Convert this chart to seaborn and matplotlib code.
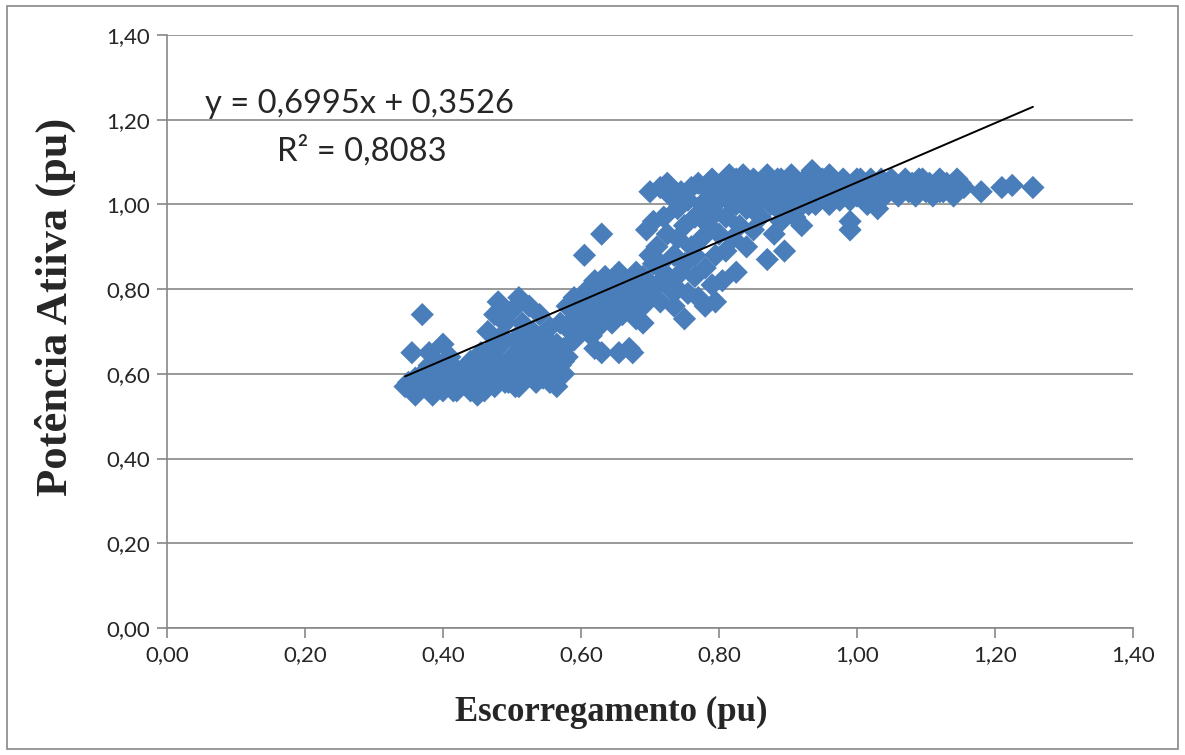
import numpy as np
import pandas as pd
import seaborn as sns
import matplotlib.pyplot as plt
from matplotlib.patches import Rectangle

# escorregamento (pu) and potencia ativa (pu)
escorregamento = [
    0.345, 0.35, 0.355, 0.36, 0.36, 0.365, 0.37, 0.37, 0.375, 0.38, 0.38, 0.385, 0.39, 0.39, 0.395,
    0.40, 0.40, 0.405, 0.41, 0.41, 0.415, 0.42, 0.42, 0.425, 0.43, 0.435, 0.44, 0.44, 0.445, 0.45,
    0.45, 0.455, 0.46, 0.46, 0.465, 0.47, 0.47, 0.475, 0.475, 0.48, 0.48, 0.485, 0.485, 0.49, 0.49,
    0.495, 0.50, 0.50, 0.505, 0.505, 0.51, 0.51, 0.515, 0.515, 0.52, 0.52, 0.525, 0.53, 0.53, 0.535,
    0.535, 0.54, 0.54, 0.545, 0.545, 0.55, 0.55, 0.555, 0.555, 0.56, 0.56, 0.565, 0.565, 0.57, 0.57,
    0.575, 0.575, 0.58, 0.58, 0.585, 0.59, 0.59, 0.595, 0.60, 0.60, 0.605, 0.605, 0.61, 0.61, 0.615,
    0.615, 0.62, 0.62, 0.625, 0.625, 0.63, 0.63, 0.635, 0.635, 0.64, 0.64, 0.645, 0.65, 0.65, 0.655,
    0.66, 0.66, 0.665, 0.67, 0.67, 0.675, 0.675, 0.68, 0.68, 0.685, 0.69, 0.69, 0.695, 0.70, 0.70,
    0.705, 0.705, 0.71, 0.71, 0.715, 0.715, 0.72, 0.72, 0.725, 0.725, 0.73, 0.73, 0.735, 0.735, 0.74,
    0.74, 0.745, 0.745, 0.75, 0.75, 0.755, 0.755, 0.76, 0.76, 0.765, 0.765, 0.77, 0.77, 0.775, 0.775,
    0.78, 0.78, 0.785, 0.785, 0.79, 0.79, 0.795, 0.795, 0.80, 0.80, 0.805, 0.805, 0.81, 0.81, 0.815,
    0.815, 0.82, 0.82, 0.825, 0.825, 0.83, 0.83, 0.835, 0.84, 0.84, 0.845, 0.85, 0.85, 0.855, 0.86,
    0.86, 0.865, 0.87, 0.87, 0.875, 0.88, 0.88, 0.885, 0.89, 0.89, 0.895, 0.90, 0.90, 0.905, 0.91,
    0.91, 0.915, 0.92, 0.92, 0.925, 0.93, 0.935, 0.94, 0.94, 0.945, 0.95, 0.955, 0.96, 0.96, 0.965,
    0.97, 0.975, 0.98, 0.985, 0.99, 0.99, 0.995, 1.00, 1.005, 1.01, 1.015, 1.02, 1.025, 1.03, 1.035,
    1.04, 1.045, 1.05, 1.055, 1.06, 1.065, 1.07, 1.075, 1.08, 1.085, 1.09, 1.095, 1.10, 1.105, 1.11,
    1.115, 1.12, 1.125, 1.13, 1.135, 1.14, 1.145, 1.15, 1.155, 1.18, 1.21, 1.225, 1.255,
    # extra density: lower cluster and upper band
    0.355, 0.37, 0.385, 0.40, 0.415, 0.43, 0.445, 0.46, 0.475, 0.49, 0.505, 0.52, 0.535, 0.55, 0.565,
    0.44, 0.47, 0.50, 0.53, 0.56, 0.455, 0.485, 0.515, 0.545, 0.575,
    0.59, 0.62, 0.645, 0.66, 0.69, 0.715, 0.74, 0.765, 0.60, 0.63, 0.655, 0.68, 0.70, 0.725, 0.75,
    0.79, 0.80, 0.81, 0.82, 0.83, 0.84, 0.85, 0.86, 0.87, 0.88, 0.89, 0.90, 0.91, 0.92, 0.93,
    0.78, 0.795, 0.81, 0.825, 0.84, 0.855, 0.87, 0.885, 0.90, 0.915, 0.93, 0.945, 0.96, 0.975, 0.99,
    1.00, 1.01, 1.02, 1.03, 1.04, 1.06, 1.08, 1.10, 1.12, 1.14, 1.00, 1.02, 1.05, 1.07, 1.09,
]
potencia = [
    0.57, 0.58, 0.65, 0.55, 0.59, 0.56, 0.60, 0.74, 0.57, 0.62, 0.65, 0.55, 0.58, 0.63, 0.60,
    0.67, 0.56, 0.61, 0.58, 0.64, 0.59, 0.56, 0.61, 0.57, 0.60, 0.58, 0.56, 0.61, 0.59, 0.55,
    0.60, 0.57, 0.62, 0.58, 0.70, 0.60, 0.66, 0.57, 0.74, 0.63, 0.77, 0.59, 0.69, 0.61, 0.72,
    0.58, 0.64, 0.75, 0.60, 0.68, 0.57, 0.78, 0.62, 0.72, 0.59, 0.66, 0.76, 0.61, 0.70, 0.58,
    0.64, 0.74, 0.62, 0.59, 0.68, 0.61, 0.65, 0.58, 0.71, 0.63, 0.60, 0.67, 0.59, 0.62, 0.72,
    0.60, 0.66, 0.64, 0.76, 0.70, 0.73, 0.68, 0.75, 0.70, 0.78, 0.72, 0.88, 0.80, 0.74, 0.76,
    0.69, 0.82, 0.66, 0.71, 0.78, 0.93, 0.65, 0.74, 0.83, 0.77, 0.80, 0.72, 0.76, 0.81, 0.65,
    0.74, 0.79, 0.77, 0.66, 0.82, 0.75, 0.65, 0.84, 0.78, 0.80, 0.76, 0.83, 0.94, 0.79, 1.03,
    0.96, 0.86, 0.81, 0.90, 1.04, 0.77, 0.97, 0.84, 1.05, 0.93, 0.80, 1.02, 0.76, 0.88, 0.99,
    0.92, 1.03, 0.84, 0.73, 0.95, 1.01, 0.79, 0.90, 1.04, 0.83, 0.97, 0.78, 1.05, 0.92, 1.00,
    0.85, 0.76, 1.03, 0.95, 0.81, 1.06, 0.88, 0.77, 1.01, 0.93, 1.05, 0.82, 0.97, 0.89, 1.04,
    1.07, 1.00, 0.92, 1.06, 0.84, 1.02, 0.95, 1.07, 0.99, 0.90, 1.04, 1.06, 0.94, 1.01, 1.05,
    0.97, 1.03, 1.07, 0.87, 1.00, 1.04, 0.93, 1.06, 1.02, 0.96, 0.89, 1.05, 1.00, 1.07, 1.03,
    0.97, 1.05, 1.01, 0.95, 1.06, 1.03, 1.08, 1.00, 1.05, 1.02, 1.06, 1.04, 1.00, 1.07, 1.03,
    1.05, 1.01, 1.06, 1.03, 0.94, 0.96, 1.05, 1.02, 1.06, 1.04, 1.00, 1.05, 1.03, 0.99, 1.06,
    1.02, 1.04, 1.05, 1.03, 1.02, 1.05, 1.04, 1.03, 1.05, 1.02, 1.04, 1.06, 1.03, 1.05, 1.02,
    1.04, 1.06, 1.03, 1.05, 1.04, 1.02, 1.06, 1.05, 1.04, 1.03, 1.04, 1.045, 1.04,
    0.56, 0.58, 0.57, 0.59, 0.56, 0.58, 0.57, 0.56, 0.60, 0.58, 0.57, 0.61, 0.60, 0.59, 0.57,
    0.63, 0.64, 0.62, 0.67, 0.64, 0.65, 0.67, 0.70, 0.69, 0.63,
    0.78, 0.72, 0.79, 0.77, 0.72, 0.86, 0.80, 0.88, 0.74, 0.80, 0.84, 0.73, 0.88, 0.82, 0.86,
    1.05, 1.03, 1.06, 1.04, 1.05, 1.03, 1.02, 1.04, 1.06, 1.03, 1.06, 1.04, 1.02, 1.05, 1.06,
    0.99, 0.98, 1.02, 1.00, 1.02, 1.00, 1.01, 0.99, 1.02, 0.99, 1.00, 1.01, 1.02, 1.02, 1.01,
    1.04, 1.03, 1.02, 1.04, 1.03, 1.04, 1.03, 1.04, 1.03, 1.04, 1.06, 1.06, 1.06, 1.06, 1.06,
]

slope, intercept, r2 = 0.6995, 0.3526, 0.8083
x_ticks = [0.0, 0.2, 0.4, 0.6, 0.8, 1.0, 1.2, 1.4]
tick_labels = ["0,00", "0,20", "0,40", "0,60", "0,80", "1,00", "1,20", "1,40"]

df = pd.DataFrame({"x": escorregamento, "y": potencia})

sns.set_style("white")
plt.rcParams["font.family"] = ["Lato", "DejaVu Sans"]

fig = plt.figure(figsize=(11.85, 7.55), dpi=100)
ax = fig.add_axes([0.1409, 0.1682, 0.8152, 0.7854])
fig.patches.append(Rectangle((0.006, 0.008), 0.988, 0.984, transform=fig.transFigure,
                             fill=False, edgecolor="#888888", linewidth=1.2))

sns.scatterplot(data=df, x="x", y="y", marker="D", s=140, color="#4A7EBB",
                edgecolor="none", linewidth=0, ax=ax, zorder=3)

xl = np.array([0.345, 1.255])
ax.plot(xl, slope * xl + intercept, color="black", linewidth=1.4, zorder=4)

ax.set_xlim(0, 1.4)
ax.set_ylim(0, 1.4)
ax.set_xticks(x_ticks)
ax.set_xticklabels(tick_labels)
ax.set_yticks(x_ticks)
ax.set_yticklabels(tick_labels)
ax.tick_params(axis="both", labelsize=16, length=7, width=1.2, color="#888888",
               direction="out", bottom=True, left=True, pad=5)
ax.yaxis.grid(True, color="#888888", linewidth=1.2)
ax.set_axisbelow(True)
for side in ["top", "right"]:
    ax.spines[side].set_visible(False)
for side in ["left", "bottom"]:
    ax.spines[side].set_color("#888888")
    ax.spines[side].set_linewidth(1.2)

ax.set_xlabel("Escorregamento (pu)", fontsize=25, fontweight="bold",
              family="Liberation Serif", va="center")
ax.set_ylabel("Potência Atiiva (pu)", fontsize=32, fontweight="bold",
              family="Liberation Serif", va="center")
ax.xaxis.set_label_coords(0.46, -0.142)
ax.yaxis.set_label_coords(-0.116, 0.541)

ax.text(0.055, 1.237, "y = 0,6995x + 0,3526", fontsize=23.5, va="center")
ax.text(0.159, 1.126, "R² = 0,8083", fontsize=23.5, va="center")

fig.savefig("out.png", dpi=100)
